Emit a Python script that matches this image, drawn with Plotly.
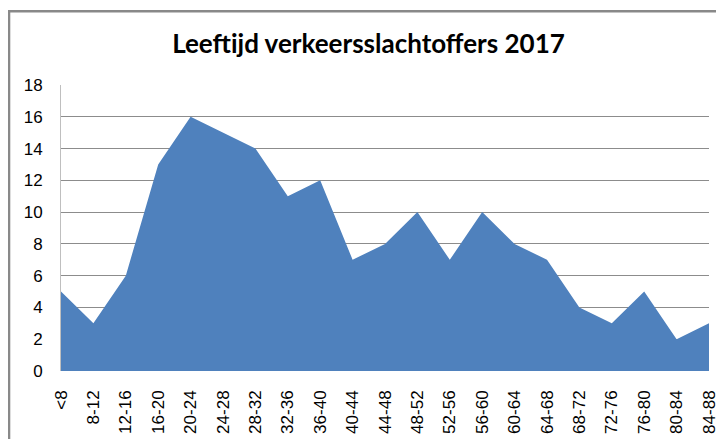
import plotly.graph_objects as go

categories = ["<8", "8-12", "12-16", "16-20", "20-24", "24-28", "28-32", "32-36", "36-40",
              "40-44", "44-48", "48-52", "52-56", "56-60", "60-64", "64-68", "68-72",
              "72-76", "76-80", "80-84", "84-88"]
values = [5, 3, 6, 13, 16, 15, 14, 11, 12, 7, 8, 10, 7, 10, 8, 7, 4, 3, 5, 2, 3]
y_ticks = [0, 2, 4, 6, 8, 10, 12, 14, 16, 18]

# page has an 8px body margin; figure is laid out relative to its own origin
OFF = 8
W, H = 724 - OFF, 439 - OFF
L, T = 60.5 - OFF, 85 - OFF
pw, ph = 648.5, 286.5
R, B = W - L - pw, H - T - ph

fig = go.Figure()
fig.add_trace(go.Scatter(
    x=categories, y=values, mode="lines", fill="tozeroy",
    line=dict(color="#4F81BD", width=0), fillcolor="#4F81BD",
    hoverinfo="x+y", showlegend=False,
))

def px_x(v):
    return (v - L) / pw

def px_y(v):
    return 1 - (v - T) / ph

fig.update_layout(
    width=W, height=H,
    margin=dict(l=L, r=R, t=T, b=B, autoexpand=False),
    paper_bgcolor="white", plot_bgcolor="white",
    title=dict(text="<b>Leeftijd verkeersslachtoffers 2017</b>", x=(368.5 - OFF) / W, xanchor="center",
               y=1 - (43.5 - OFF) / H, yanchor="middle",
               font=dict(family="Lato", size=26, color="black")),
    font=dict(family="Liberation Sans", color="black"),
    xaxis=dict(type="category", range=[0, len(categories) - 1], tickangle=-90,
               showgrid=False, showline=False, ticks="", zeroline=False,
               tickfont=dict(size=17, family="Liberation Sans"), ticklabelstandoff=15),
    yaxis=dict(range=[0, 18], tickvals=y_ticks, showgrid=True, gridcolor="#8C8C8C",
               gridwidth=1, zeroline=False, showline=True, linecolor="#BFBFBF",
               ticks="", tickfont=dict(size=17, family="Liberation Sans"), ticklabelstandoff=14),
    shapes=[dict(type="rect", xref="paper", yref="paper",
                 x0=px_x(0.5), x1=px_x(W + 10), y0=px_y(H + 10), y1=px_y(11 - OFF),
                 line=dict(color="#898989", width=2.5), fillcolor="rgba(0,0,0,0)", layer="below")],
)

fig.write_html("out.html")
